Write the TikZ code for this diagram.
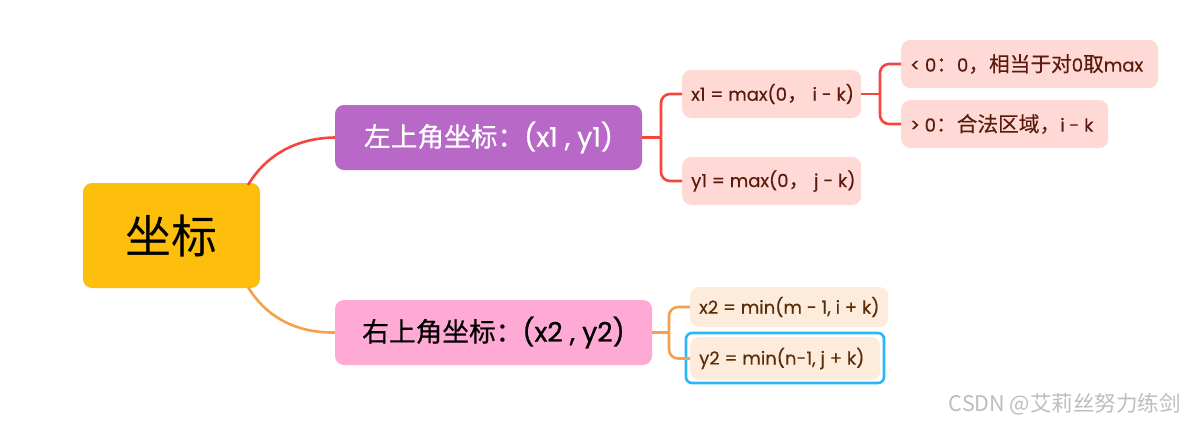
\documentclass[tikz,border=0pt]{standalone}
\usepackage{fontspec}
\setmainfont{Poppins}[FakeBold=0.3]
\newfontfamily\popb[FakeBold=0.9]{Poppins}
\newfontfamily\cjk{Noto Sans CJK SC}
\newfontfamily\cjkb[FakeBold=0.6]{Noto Sans CJK SC}
\newfontfamily\cjkL[Scale=1.15,FakeBold=0.3]{Noto Sans CJK SC}
\definecolor{rootc}{HTML}{FDBF0B}
\definecolor{purp}{HTML}{B868C6}
\definecolor{pinkc}{HTML}{FFAAD5}
\definecolor{redl}{HTML}{F5463C}
\definecolor{orl}{HTML}{F5A04B}
\definecolor{leafr}{HTML}{FFD9D6}
\definecolor{leafo}{HTML}{FDEBDB}
\definecolor{txtr}{HTML}{5C1A0C}
\definecolor{txto}{HTML}{5A2D0A}
\definecolor{bluec}{HTML}{2CB6F5}
\definecolor{wm}{HTML}{BDBDBD}
\newcommand{\lb}[2]{\makebox[#1][l]{#2}}
\begin{document}
\begin{tikzpicture}[x=1pt,y=-1pt,
  box/.style={rounded corners=9pt,inner sep=0pt,align=center},
  leaf/.style={rounded corners=9pt,inner ysep=0pt,inner xsep=9pt,anchor=west,font=\fontsize{18}{20}\selectfont},
  leafR/.style={leaf,fill=leafr,text=txtr,minimum height=48pt},
  leafO/.style={leaf,fill=leafo,text=txto},
  redline/.style={draw=redl,line width=2.6pt},
  orline/.style={draw=orl,line width=2.6pt}]
\useasboundingbox (0,0) rectangle (1188,424);
\node[box,fill=rootc,minimum width=177pt,minimum height=105pt,font=\cjk\fontsize{46}{50}\selectfont] (root) at (171.5,235.5) {坐标};
\node[box,fill=purp,text=white,minimum width=307pt,minimum height=65pt,font=\popb\fontsize{26.7}{30}\selectfont] (b1) at (488.5,137.5) {{\cjkb 左上角坐标：}(x1 , y1)};
\node[box,fill=pinkc,text=black,minimum width=317pt,minimum height=65pt,font=\popb\fontsize{26.7}{30}\selectfont] (b2) at (493.5,332.5) {{\cjkb 右上角坐标：}(x2 , y2)};
\node[leafR] (x1) at (682,94) {\lb{161pt}{x1 = max(0{\cjkL ，} i - k)}};
\node[leafR] (y1) at (682,181) {\lb{161pt}{y1 = max(0{\cjkL ，} j - k)}};
\node[leafR] (lt) at (901,64) {\lb{239pt}{< 0{\cjkL ：}0{\cjkL ，相当于对}0{\cjkL 取}max}};
\node[leafR] (gt) at (901,124) {\lb{189pt}{> 0{\cjkL ：合法区域，}i - k}};
\node[leafO,minimum height=40pt] (x2) at (690,307) {\lb{180pt}{x2 = min(m - 1, i + k)}};
\node[leafO,minimum height=43pt] (y2) at (690,358.5) {\lb{172pt}{y2 = min(n-1, j + k)}};
\node[draw=bluec,line width=2.6pt,rounded corners=6pt,minimum width=198pt,minimum height=50pt,inner sep=0pt] (sel) at (785,358) {};
\node[text=wm,font=\cjk\fontsize{21.5}{24}\selectfont,anchor=east,inner sep=0pt] (wmk) at (1181,404) {CSDN @艾莉丝努力练剑};
% root curves
\coordinate (r1) at (248,185);
\coordinate (r2) at (248,287);
\draw[redline] (r1) .. controls (268,152) and (300,138) .. (b1.west);
\draw[orline] (r2) .. controls (268,320) and (300,333) .. (b2.west);
% brackets
\coordinate (j1) at (661,137.5);
\draw[redline] (b1.east) -- (j1);
\draw[redline,rounded corners=9pt] (j1) |- (x1.west);
\draw[redline,rounded corners=9pt] (j1) |- (y1.west);
\coordinate (j2) at (880,94);
\draw[redline] (x1.east) -- (j2);
\draw[redline,rounded corners=9pt] (j2) |- (lt.west);
\draw[redline,rounded corners=9pt] (j2) |- (gt.west);
\coordinate (j3) at (669,332.5);
\draw[orline] (b2.east) -- (j3);
\draw[orline,rounded corners=9pt] (j3) |- (x2.west);
\draw[orline,rounded corners=9pt] (j3) |- (y2.west);
\end{tikzpicture}
\end{document}
